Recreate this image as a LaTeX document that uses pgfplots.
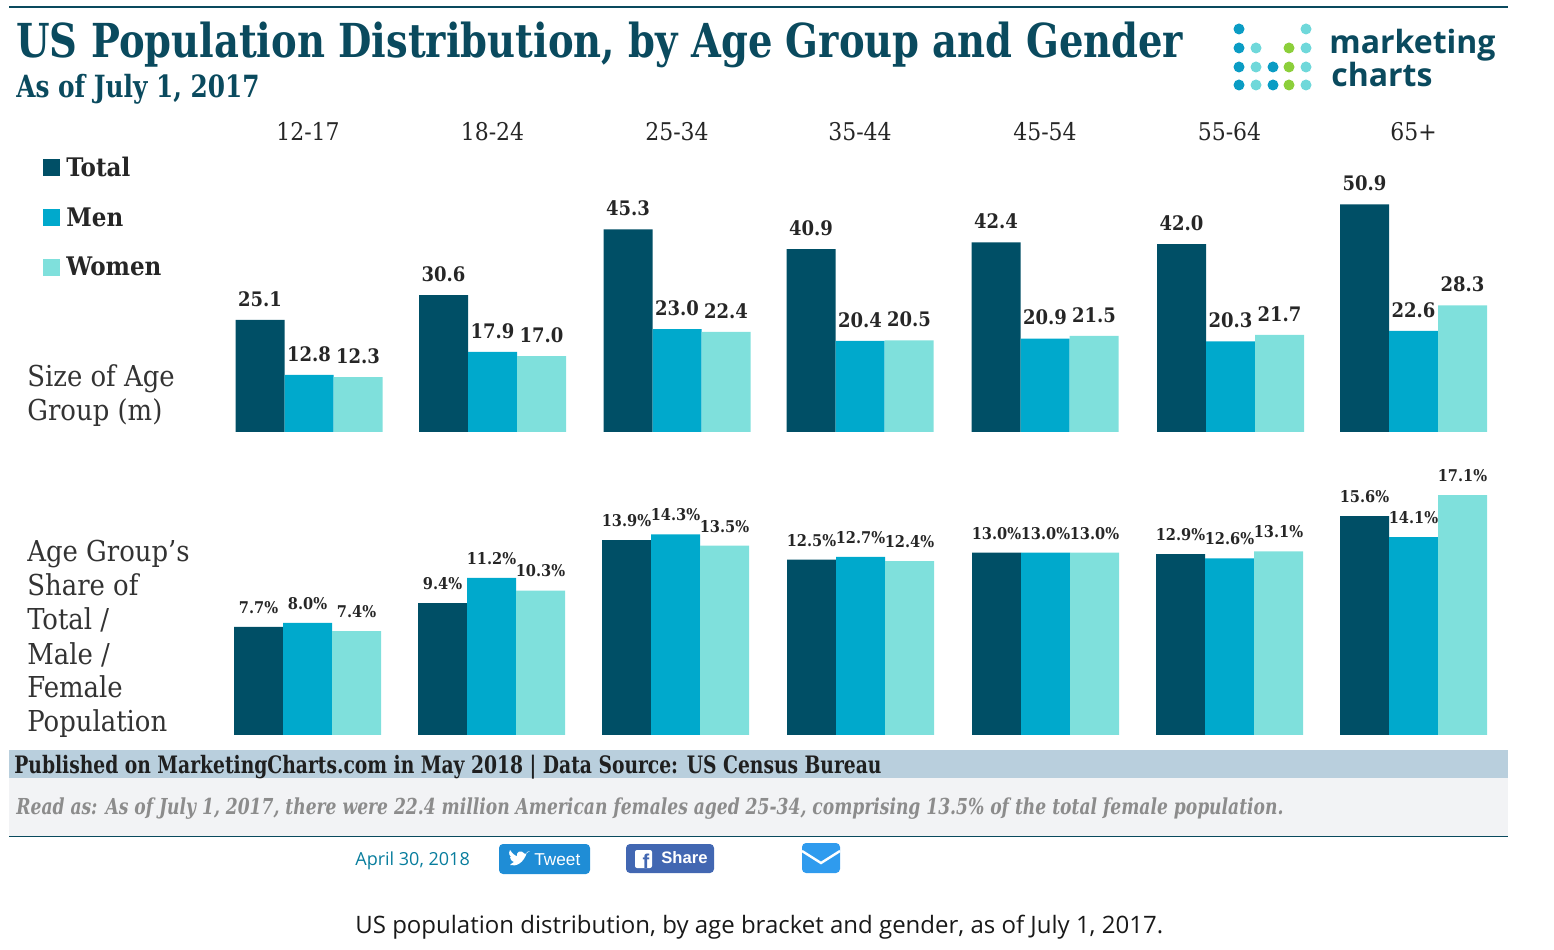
\documentclass[border=0pt]{standalone}
\usepackage{fontspec}
\usepackage{graphicx}
\usepackage{pgfplots}
\pgfplotsset{compat=1.18}
\setmainfont{DejaVu Serif Condensed}
\newfontfamily\opensans{Open Sans}
\newfontfamily\arialf{Liberation Sans}
\newcommand{\fs}[1]{\fontsize{#1}{#1}\selectfont}
\definecolor{cTotal}{HTML}{004F66}
\definecolor{cMen}{HTML}{00A9CC}
\definecolor{cWomen}{HTML}{7FE0DC}
\definecolor{cHead}{HTML}{0A4A5E}
\definecolor{cBand}{HTML}{B9CFDD}
\definecolor{cRead}{HTML}{F2F3F5}
\definecolor{cDot}{HTML}{0A9CC4}
\definecolor{cDotL}{HTML}{6FD8DA}
\definecolor{cDotG}{HTML}{8CCF3A}
\pgfplotsset{
  /pgf/number format/assume math mode=true,
  /pgf/number format/fixed,
  /pgf/number format/fixed zerofill,
  /pgf/number format/precision=1,
  chartaxis/.style={
    scale only axis, width=777pt, xmin=0, xmax=1554, ymin=0,
    ybar=0pt, bar width=24.5pt, clip=false,
    axis line style={draw=none}, major tick length=0pt, ytick=\empty,
    nodes near coords,
  },
}
\begin{document}
\begin{tikzpicture}[x=0.5pt,y=0.5pt]
\path[use as bounding box] (0,0) rectangle (1554,949);
% bands and rules
\fill[cBand] (9,171) rectangle (1508,199);
\fill[cRead] (9,113) rectangle (1508,171);
\draw[cHead,line width=0.8pt] (9,112.5) -- (1508,112.5);
\draw[cHead,line width=0.8pt] (9,942) -- (1508,942);
% header
\node[anchor=base west,inner sep=0,text=cHead] at (16,891) {\scalebox{.914}[1]{\fs{23.4}\bfseries US Population Distribution, by Age Group and Gender}};
\node[anchor=base west,inner sep=0,text=cHead] at (16,851.5) {\scalebox{.90}[1]{\fs{15.3}\bfseries As of July 1, 2017}};
% logo
\foreach \x/\y/\c in {1239/920/cDot,1239/901/cDot,1239/882/cDot,1239/864/cDot,
  1256/901/cDotL,1256/882/cDotL,1256/864/cDotL,
  1273/882/cDot,1273/864/cDot,
  1289/901/cDotG,1289/882/cDotG,1289/864/cDotG,
  1306/920/cDotL,1306/901/cDotL,1306/882/cDotL,1306/864/cDotL}
  \fill[\c] (\x,\y) circle (5.5);
\node[anchor=base west,inner sep=0,text=cHead] at (1329,895) {\opensans\fs{16}\bfseries marketing};
\node[anchor=base west,inner sep=0,text=cHead] at (1331,862) {\opensans\fs{16}\bfseries charts};
% upper chart: baseline at y=432 px, 4.47 px per million
\begin{axis}[chartaxis, at={(0pt,258.5pt)}, anchor=south west, height=143pt, ymax=63.98,
  xtick={308,492.5,677,860,1045,1229.5,1413.5},
  xticklabels={12-17,18-24,25-34,35-44,45-54,55-64,65+},
  xticklabel pos=upper, x tick label style={font=\fs{12.2}, text=black!85, inner sep=0pt, anchor=base},
  xticklabel shift=2.5pt,
  every node near coord/.append style={font=\fs{10}\bfseries, text=black!85, inner sep=0pt, yshift=6.5pt},
  legend style={at={(axis cs:43,61.6)}, anchor=north west, draw=none, fill=none, font=\fs{12.8}\bfseries,
    row sep=14pt, inner sep=0pt, nodes={inner sep=0pt, text=black!85}, column sep=3pt},
  legend cell align=left,
  legend image code/.code={\fill[#1,draw=none] (0cm,-0.14cm) rectangle (0.3cm,0.16cm);},
]
\addplot[fill=cTotal,draw=none] coordinates {(309,25.1)(492.5,30.6)(677,45.3)(860,40.9)(1045,42.4)(1230.5,42.0)(1413.5,50.9)};
\addplot[fill=cMen,draw=none] coordinates {(309,12.8)(492.5,17.9)(677,23.0)(860,20.4)(1045,20.9)(1230.5,20.3)(1413.5,22.6)};
\addplot[fill=cWomen,draw=none] coordinates {(309,12.3)(492.5,17.0)(677,22.4)(860,20.5)(1045,21.5)(1230.5,21.7)(1413.5,28.3)};
\legend{Total,Men,Women}
\end{axis}
% lower chart: baseline at y=735 px, 14.03 px per percent
\begin{axis}[chartaxis, at={(0pt,107pt)}, anchor=south west, height=135pt, ymax=19.25,
  xtick=\empty,
  nodes near coords={\pgfmathprintnumber{\pgfplotspointmeta}\%},
  every node near coord/.append style={font=\fs{8.1}\bfseries, text=black!85, inner sep=0pt, yshift=6.5pt},
]
\addplot[fill=cTotal,draw=none] coordinates {(307.5,7.7)(491.5,9.4)(675.5,13.9)(860.5,12.5)(1045.5,13.0)(1229.5,12.9)(1413.5,15.6)};
\addplot[fill=cMen,draw=none] coordinates {(307.5,8.0)(491.5,11.2)(675.5,14.3)(860.5,12.7)(1045.5,13.0)(1229.5,12.6)(1413.5,14.1)};
\addplot[fill=cWomen,draw=none] coordinates {(307.5,7.4)(491.5,10.3)(675.5,13.5)(860.5,12.4)(1045.5,13.0)(1229.5,13.1)(1413.5,17.1)};
\end{axis}
% row labels
\node[anchor=base west,inner sep=0,text=black!80] at (27,562) {\fs{14.4}Size of Age};
\node[anchor=base west,inner sep=0,text=black!80] at (27,528) {\fs{14.4}Group (m)};
\node[anchor=base west,inner sep=0,text=black!80] at (27,387) {\fs{14.4}Age Group's};
\node[anchor=base west,inner sep=0,text=black!80] at (27,353) {\fs{14.4}Share of};
\node[anchor=base west,inner sep=0,text=black!80] at (27,319) {\fs{14.4}Total /};
\node[anchor=base west,inner sep=0,text=black!80] at (27,285) {\fs{14.4}Male /};
\node[anchor=base west,inner sep=0,text=black!80] at (27,251) {\fs{14.4}Female};
\node[anchor=base west,inner sep=0,text=black!80] at (27,218) {\fs{14.4}Population};
% footer
\node[anchor=base west,inner sep=0,text=black!88] at (14,176) {\scalebox{.866}[1]{\fs{12}\bfseries Published on MarketingCharts.com in May 2018 | Data Source: US Census Bureau}};
\node[anchor=base west,inner sep=0,text=black!45] at (16,134) {\scalebox{.865}[1]{\fs{11}\bfseries\itshape Read as: As of July 1, 2017, there were 22.4 million American females aged 25-34, comprising 13.5\% of the total female population.}};
% page furniture
\node[anchor=base west,inner sep=0,text=cDot!80!black] at (355,84) {\opensans\fs{9}April 30, 2018};
\fill[rounded corners=2pt,color={rgb,255:red,31;green,141;blue,214}] (499,75) rectangle (590,105);
\fill[white] (510,84) .. controls (516,82) and (524,86) .. (527,97) -- (530,98) -- (525,95) .. controls (521,100) and (516,97) .. (517,93) .. controls (515,93) and (512,96) .. (510,99) .. controls (508,95) and (510,93) .. (511,92) -- (510,92) .. controls (511,88) and (513,87) .. (514,87) .. controls (512,86) and (511,85) .. (510,84) -- cycle;
\node[anchor=base west,inner sep=0,text=white] at (534,84) {\arialf\fs{8.6}Tweet};
\fill[rounded corners=2pt,color={rgb,255:red,66;green,103;blue,178}] (626,76) rectangle (714,105);
\fill[white,rounded corners=1pt] (635,81) rectangle (652,99);
\node[anchor=base,inner sep=0,text={rgb,255:red,66;green,103;blue,178}] at (646,81) {\arialf\fs{10}\bfseries f};
\node[anchor=base west,inner sep=0,text=white] at (661,86) {\arialf\fs{8.3}\bfseries Share};
\fill[rounded corners=2pt,color={rgb,255:red,47;green,155;blue,238}] (802,76) rectangle (840,106);
\draw[white,line width=1.2pt] (802,98) -- (821,86) -- (840,98);
\node[anchor=base west,inner sep=0,text=black!90] at (355,16) {\opensans\fs{12}US population distribution, by age bracket and gender, as of July 1, 2017.};
\end{tikzpicture}
\end{document}
